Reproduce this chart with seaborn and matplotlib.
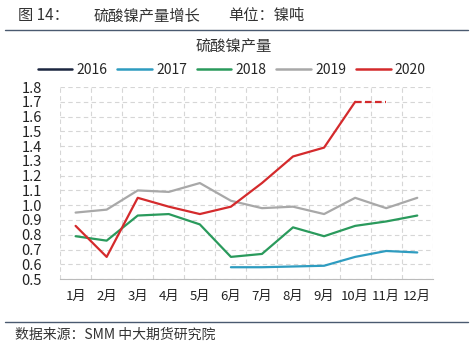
import numpy as np
import pandas as pd
import seaborn as sns
import matplotlib.pyplot as plt
from matplotlib.lines import Line2D

months = ["1月", "2月", "3月", "4月", "5月", "6月", "7月", "8月", "9月", "10月", "11月", "12月"]
years = ["2016", "2017", "2018", "2019", "2020"]
v2016 = [np.nan] * 12
v2017 = [np.nan, np.nan, np.nan, np.nan, np.nan, 0.58, 0.58, 0.585, 0.59, 0.65, 0.69, 0.68]
v2018 = [0.79, 0.76, 0.93, 0.94, 0.87, 0.65, 0.67, 0.85, 0.79, 0.86, 0.89, 0.93]
v2019 = [0.95, 0.97, 1.10, 1.09, 1.15, 1.03, 0.98, 0.99, 0.94, 1.05, 0.98, 1.05]
v2020 = [0.86, 0.65, 1.05, 0.99, 0.94, 0.99, 1.15, 1.33, 1.39, 1.70, np.nan, np.nan]
v2020_est = [np.nan] * 9 + [1.70, 1.70, np.nan]

colors = ["#1c2640", "#2e9cc0", "#2a9a5c", "#a8a8a8", "#d42a2c"]

sns.set_style("white")
plt.rcParams['font.family'] = ['Noto Sans CJK SC', 'DejaVu Sans']

fig = plt.figure(figsize=(4.73, 3.51), dpi=100)
ax = fig.add_axes([0.127, 0.205, 0.788, 0.547])

x = np.arange(len(months))
rows = []
for yr, vals in zip(years, [v2016, v2017, v2018, v2019, v2020]):
    for i, v in enumerate(vals):
        rows.append({"month": i, "year": yr, "value": v})
df = pd.DataFrame(rows).dropna()

sns.lineplot(data=df, x="month", y="value", hue="year", hue_order=years,
             palette=dict(zip(years, colors)), linewidth=1.6, ax=ax, legend=False)
sns.lineplot(x=x, y=v2020_est, color=colors[4], linewidth=1.6, linestyle=(0, (3, 1.5)), ax=ax)

ax.set_xlim(-0.5, 11.5)
ax.set_ylim(0.5, 1.8)
ax.set_xticks(x)
ax.set_xticklabels(months, fontsize=9.5, color="#222")
ax.set_xticks(np.arange(-0.5, 12, 1), minor=True)
ax.set_yticks(np.arange(0.5, 1.81, 0.1))
ax.set_yticklabels([f"{v:.1f}" for v in np.arange(0.5, 1.81, 0.1)], fontsize=10.5, color="#222")
ax.tick_params(axis="x", which="major", length=0, pad=8)
ax.tick_params(axis="x", which="minor", length=4, color="#bbbbbb", width=0.8)
ax.tick_params(axis="y", length=0, pad=13)
ax.grid(True, axis="y", which="major", linestyle=(0, (4, 3)), color="#d6d6d6", linewidth=0.8)
ax.grid(True, axis="x", which="minor", linestyle=(0, (4, 3)), color="#d6d6d6", linewidth=0.8)
ax.grid(False, axis="x", which="major")
ax.set_xlabel("")
ax.set_ylabel("")
for s in ["top", "left", "right"]:
    ax.spines[s].set_visible(False)
ax.spines["bottom"].set_color("#bbbbbb")
ax.spines["bottom"].set_linewidth(0.8)

handles = [Line2D([0], [0], color=c, linewidth=1.8) for c in colors]
fig.legend(handles, years, loc="center", bbox_to_anchor=(0.49, 0.80), ncol=5, frameon=False,
           fontsize=10, handlelength=2.5, handletextpad=0.3, columnspacing=0.7)

fig.text(0.038, 0.955, "图 14：", fontsize=11, color="#333", va="center")
fig.text(0.197, 0.955, "硫酸镍产量增长", fontsize=11, color="#333", va="center")
fig.text(0.482, 0.955, "单位：镍吨", fontsize=11, color="#333", va="center")
fig.text(0.493, 0.866, "硫酸镍产量", fontsize=11, color="#333", va="center", ha="center")
fig.text(0.032, 0.045, "数据来源：SMM 中大期货研究院", fontsize=10, color="#333", va="center")
fig.add_artist(Line2D([0.01, 0.99], [0.915, 0.915], color="#4a5a70", linewidth=1.0))
fig.add_artist(Line2D([0.01, 0.99], [0.083, 0.083], color="#4a5a70", linewidth=1.0))

fig.savefig("out.png", dpi=100)
